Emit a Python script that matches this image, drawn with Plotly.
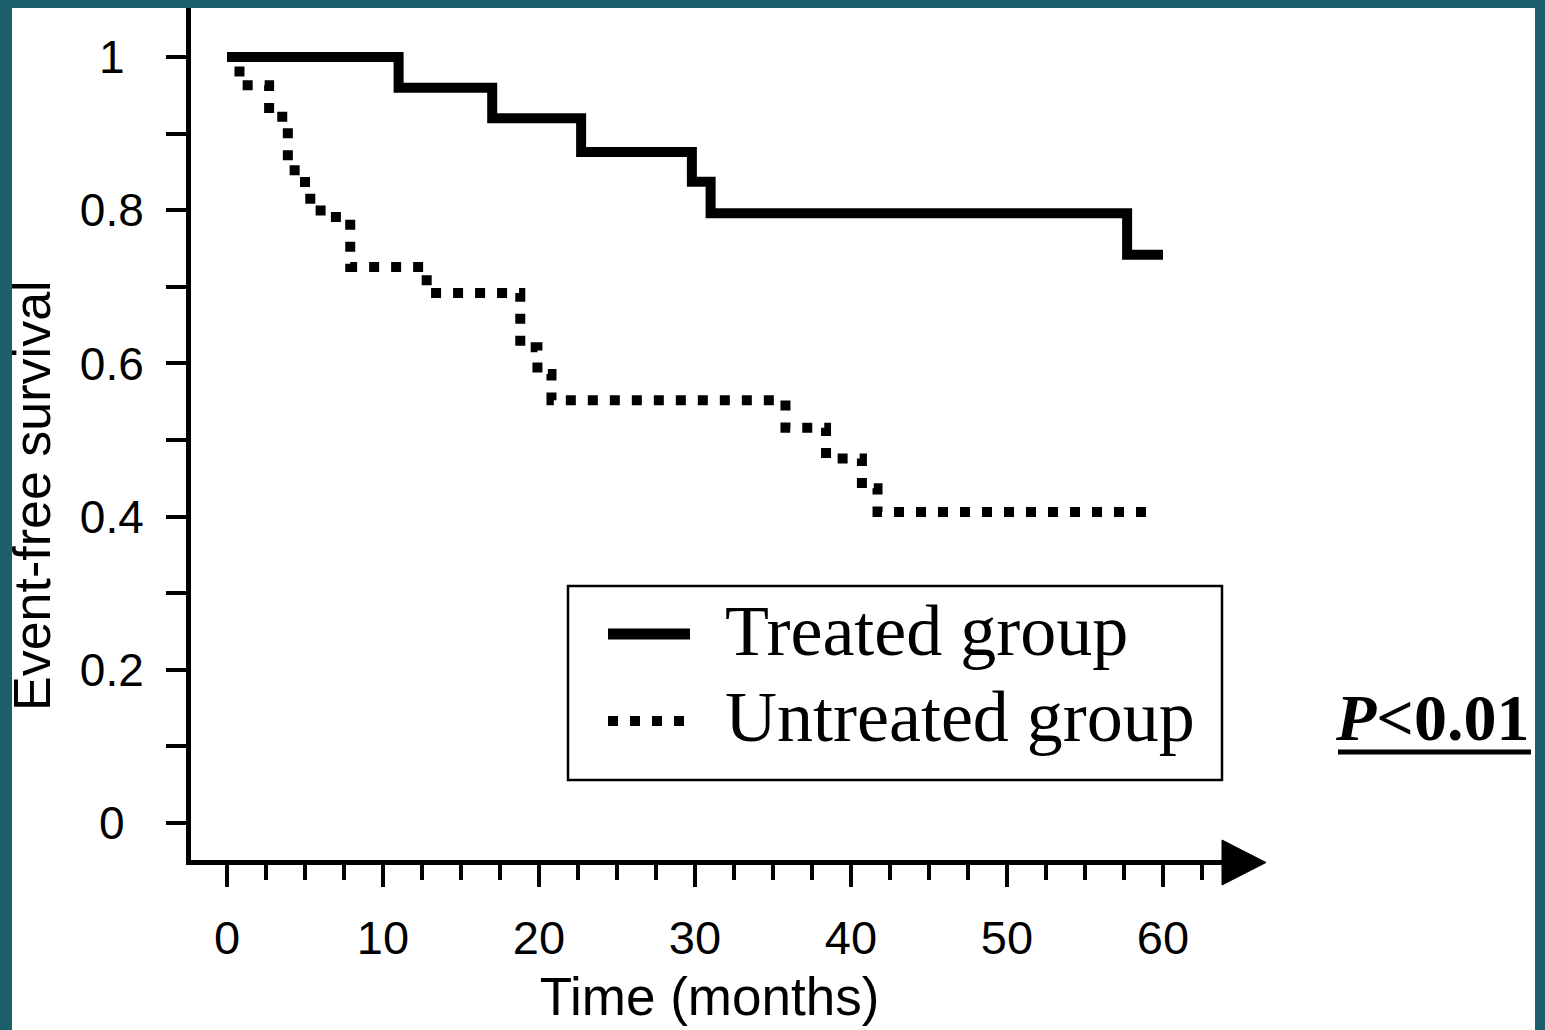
import plotly.graph_objects as go

# ---------------- data ----------------
treated_time = [0, 11, 17, 22.7, 29.8, 31, 57.7, 60]
treated_surv = [1.0, 0.96, 0.92, 0.876, 0.837, 0.796, 0.742, 0.742]

untreated_time = [0, 0.8, 2.7, 3.9, 5.0, 6.0, 7.9, 12.8, 18.8, 19.9, 20.8,
                  35.8, 38.4, 40.7, 41.7, 59.2]
untreated_surv = [1.0, 0.963, 0.922, 0.852, 0.815, 0.791, 0.726, 0.692, 0.621,
                  0.586, 0.552, 0.516, 0.476, 0.437, 0.406, 0.406]

series_names = ["Treated group", "Untreated group"]

y_tick_vals = [0, 0.2, 0.4, 0.6, 0.8, 1]
y_tick_text = ["0\u2004\u200a", "0.2", "0.4", "0.6", "0.8", "1\u2004\u200a"]
x_tick_vals = [0, 10, 20, 30, 40, 50, 60]
x_tick_text = ["0", "10", "20", "30", "40", "50", "60"]

p_value_text = "<b><i>P</i>&lt;0.01</b>"
x_title = "Time (months)"
y_title = "Event-free survival"

# ---------------- layout geometry ----------------
W, H = 1545, 1030
L, R, T, B = 191, 1228, 8, 860
X0_PX, PX_PER_MONTH = 227, 15.6
Y0_PX, PX_PER_UNIT = 823, 766
xmin = (L - X0_PX) / PX_PER_MONTH
xmax = (R - X0_PX) / PX_PER_MONTH
ymin = -(B - Y0_PX) / PX_PER_UNIT
ymax = (Y0_PX - T) / PX_PER_UNIT


def pxx(p):
    return (p - L) / (R - L)


def pxy(p):
    return (B - p) / (B - T)


TEAL = "#1c5e69"
SANS = "Liberation Sans, Arial, Helvetica, sans-serif"
SERIF = "Liberation Serif, Times New Roman, serif"
DOT = "10px,12px"

fig = go.Figure()
fig.add_trace(go.Scatter(
    x=treated_time, y=treated_surv, mode="lines", line_shape="hv",
    name=series_names[0], line=dict(color="black", width=10),
    showlegend=False))
fig.add_trace(go.Scatter(
    x=untreated_time, y=untreated_surv, mode="lines", line_shape="hv",
    name=series_names[1], line=dict(color="black", width=10, dash=DOT),
    showlegend=False))

shapes = [
    # white page inside the teal frame
    dict(type="rect", xref="paper", yref="paper", layer="below",
         x0=pxx(12), x1=pxx(1535), y0=pxy(1060), y1=pxy(8),
         fillcolor="white", line=dict(width=0)),
    # arrow head of the x axis
    dict(type="path", xref="paper", yref="paper",
         path=f"M {pxx(1222)},{pxy(840)} L {pxx(1222)},{pxy(885)} L {pxx(1266)},{pxy(862.5)} Z",
         fillcolor="black", line=dict(color="black", width=1)),
    # legend box
    dict(type="rect", xref="paper", yref="paper",
         x0=pxx(568), x1=pxx(1222), y0=pxy(780), y1=pxy(586),
         fillcolor="white", line=dict(color="black", width=2.5)),
    dict(type="line", xref="paper", yref="paper",
         x0=pxx(608), x1=pxx(690), y0=pxy(634), y1=pxy(634),
         line=dict(color="black", width=11)),
    dict(type="line", xref="paper", yref="paper",
         x0=pxx(608), x1=pxx(688), y0=pxy(721), y1=pxy(721),
         line=dict(color="black", width=10, dash=DOT)),
    # underline of P value
    dict(type="line", xref="paper", yref="paper",
         x0=pxx(1338), x1=pxx(1531), y0=pxy(752), y1=pxy(752),
         line=dict(color="black", width=5)),
]

annotations = [
    dict(text=series_names[0], xref="paper", yref="paper", x=pxx(723), y=pxy(631),
         xanchor="left", yanchor="middle", showarrow=False,
         font=dict(family=SERIF, size=72, color="black")),
    dict(text=series_names[1], xref="paper", yref="paper", x=pxx(723), y=pxy(717),
         xanchor="left", yanchor="middle", showarrow=False,
         font=dict(family=SERIF, size=72, color="black")),
    dict(text=p_value_text, xref="paper", yref="paper", x=pxx(1333), y=pxy(717),
         xanchor="left", yanchor="middle", showarrow=False,
         font=dict(family=SERIF, size=66, color="black")),
    dict(text=y_title, xref="paper", yref="paper", x=pxx(32), y=pxy(496),
         xanchor="center", yanchor="middle", textangle=-90, showarrow=False,
         font=dict(family=SANS, size=52, color="black")),
]

fig.update_layout(
    width=W, height=H,
    margin=dict(l=L, r=W - R, t=T, b=H - B, pad=0),
    paper_bgcolor=TEAL, plot_bgcolor="white",
    showlegend=False,
    shapes=shapes, annotations=annotations,
    xaxis=dict(
        range=[xmin, xmax], showgrid=False, zeroline=False,
        showline=True, linecolor="black", linewidth=5,
        tickmode="array", tickvals=x_tick_vals, ticktext=x_tick_text,
        ticks="outside", ticklen=22, tickwidth=4, tickcolor="black",
        ticklabelstandoff=11,
        tickfont=dict(family=SANS, size=47, color="black"),
        minor=dict(tickmode="linear", tick0=0, dtick=2.5, ticks="outside",
                   ticklen=15, tickwidth=4, tickcolor="black", showgrid=False),
        title=dict(text=x_title, standoff=16,
                   font=dict(family=SANS, size=53, color="black")),
    ),
    yaxis=dict(
        range=[ymin, ymax], showgrid=False, zeroline=False,
        showline=True, linecolor="black", linewidth=5,
        tickmode="array", tickvals=y_tick_vals, ticktext=y_tick_text,
        ticks="outside", ticklen=20, tickwidth=4, tickcolor="black",
        ticklabelstandoff=13,
        tickfont=dict(family=SANS, size=46, color="black"),
        minor=dict(tickmode="linear", tick0=0, dtick=0.1, ticks="outside",
                   ticklen=20, tickwidth=4, tickcolor="black", showgrid=False),
    ),
)

fig.write_html(
    "out.html",
    config={"displayModeBar": False},
    post_script="document.body.style.margin='0';document.body.style.overflow='hidden';",
)
